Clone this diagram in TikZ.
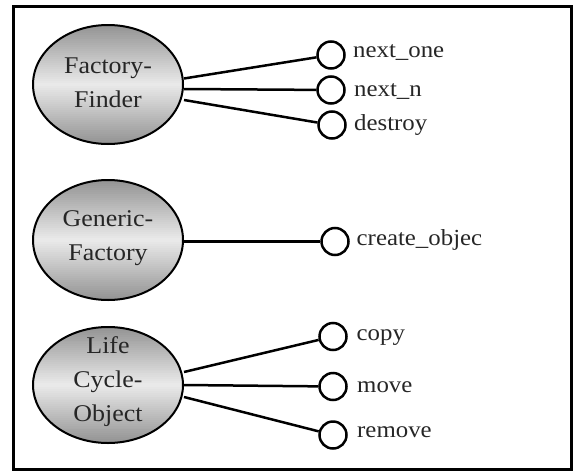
\documentclass[tikz,border=0pt]{standalone}
\usepackage{fontspec}
\setmainfont{Liberation Serif}[FakeStretch=1.08]
\usetikzlibrary{shapes.geometric}
\newcommand\gradell[3]{%
  \begin{scope}
  \clip (#1,#2) ellipse [x radius=75, y radius=#3];
  \foreach \i in {0,...,59}{
    \pgfmathsetmacro\tt{abs(\i-29.5)/29.5}
    \pgfmathsetmacro\kk{8+34*\tt}
    \fill[black!\kk] (#1-76, {#2-#3+\i*2*#3/60}) rectangle (#1+76, {#2-#3+(\i+1.1)*2*#3/60});
  }
  \end{scope}}
\tikzset{
  x=1pt, y=-1pt,
  frame/.style={draw=black, line width=3pt},
  iface/.style={ellipse, draw=black, line width=2pt, minimum width=150pt, inner sep=0pt},
  ifacetext/.style={align=center, inner sep=0pt, font=\fontsize{24}{34}\selectfont, text=black!85},
  op/.style={circle, draw=black, line width=2.5pt, minimum size=27pt, inner sep=0pt, fill=white},
  oplabel/.style={anchor=base west, inner sep=0pt, font=\fontsize{23}{27}\selectfont, text=black!85},
  conn/.style={draw=black, line width=2.5pt}
}
\begin{document}
\begin{tikzpicture}
\useasboundingbox (0,0) rectangle (575,471);
\draw[frame] (13,6) rectangle (571.5,469.5);

\gradell{108}{84.5}{59.5}
\gradell{108}{240}{60}
\gradell{108}{385}{58}

\node[iface, minimum height=119pt] (ff) at (108,84.5) {};
\node[iface, minimum height=120pt] (gf) at (108,240) {};
\node[iface, minimum height=116pt] (lc) at (108,385) {};

\node[ifacetext] (fft) at (108,83) {Factory-\\Finder};
\node[ifacetext] (gft) at (108,238.5) {Generic-\\Factory};
\node[ifacetext] (lct) at (108,381.5) {Life\\Cycle-\\Object};

\node[op] (c1) at (331,55) {};
\node[op] (c2) at (331,90) {};
\node[op] (c3) at (332,125) {};
\node[op] (c4) at (335,241.5) {};
\node[op] (c5) at (333,336.5) {};
\node[op] (c6) at (333,386.5) {};
\node[op] (c7) at (333,435) {};

\node[oplabel] (l1) at (353,57) {next\_one};
\node[oplabel] (l2) at (354,96) {next\_n};
\node[oplabel] (l3) at (354,130) {destroy};
\node[oplabel] (l4) at (356.5,245) {create\_objec};
\node[oplabel] (l5) at (356.5,340.5) {copy};
\node[oplabel] (l6) at (357,392.5) {move};
\node[oplabel] (l7) at (357,437.5) {remove};

\draw[conn] ([yshift=6pt]ff.east) -- (c1);
\draw[conn] ([yshift=-4.5pt]ff.east) -- (c2);
\draw[conn] ([yshift=-15.5pt]ff.east) -- (c3);
\draw[conn] ([yshift=-1.5pt]gf.east) -- (c4);
\draw[conn] ([yshift=13pt]lc.east) -- (c5);
\draw[conn] (lc.east) -- (c6);
\draw[conn] ([yshift=-12pt]lc.east) -- (c7);
\end{tikzpicture}
\end{document}
